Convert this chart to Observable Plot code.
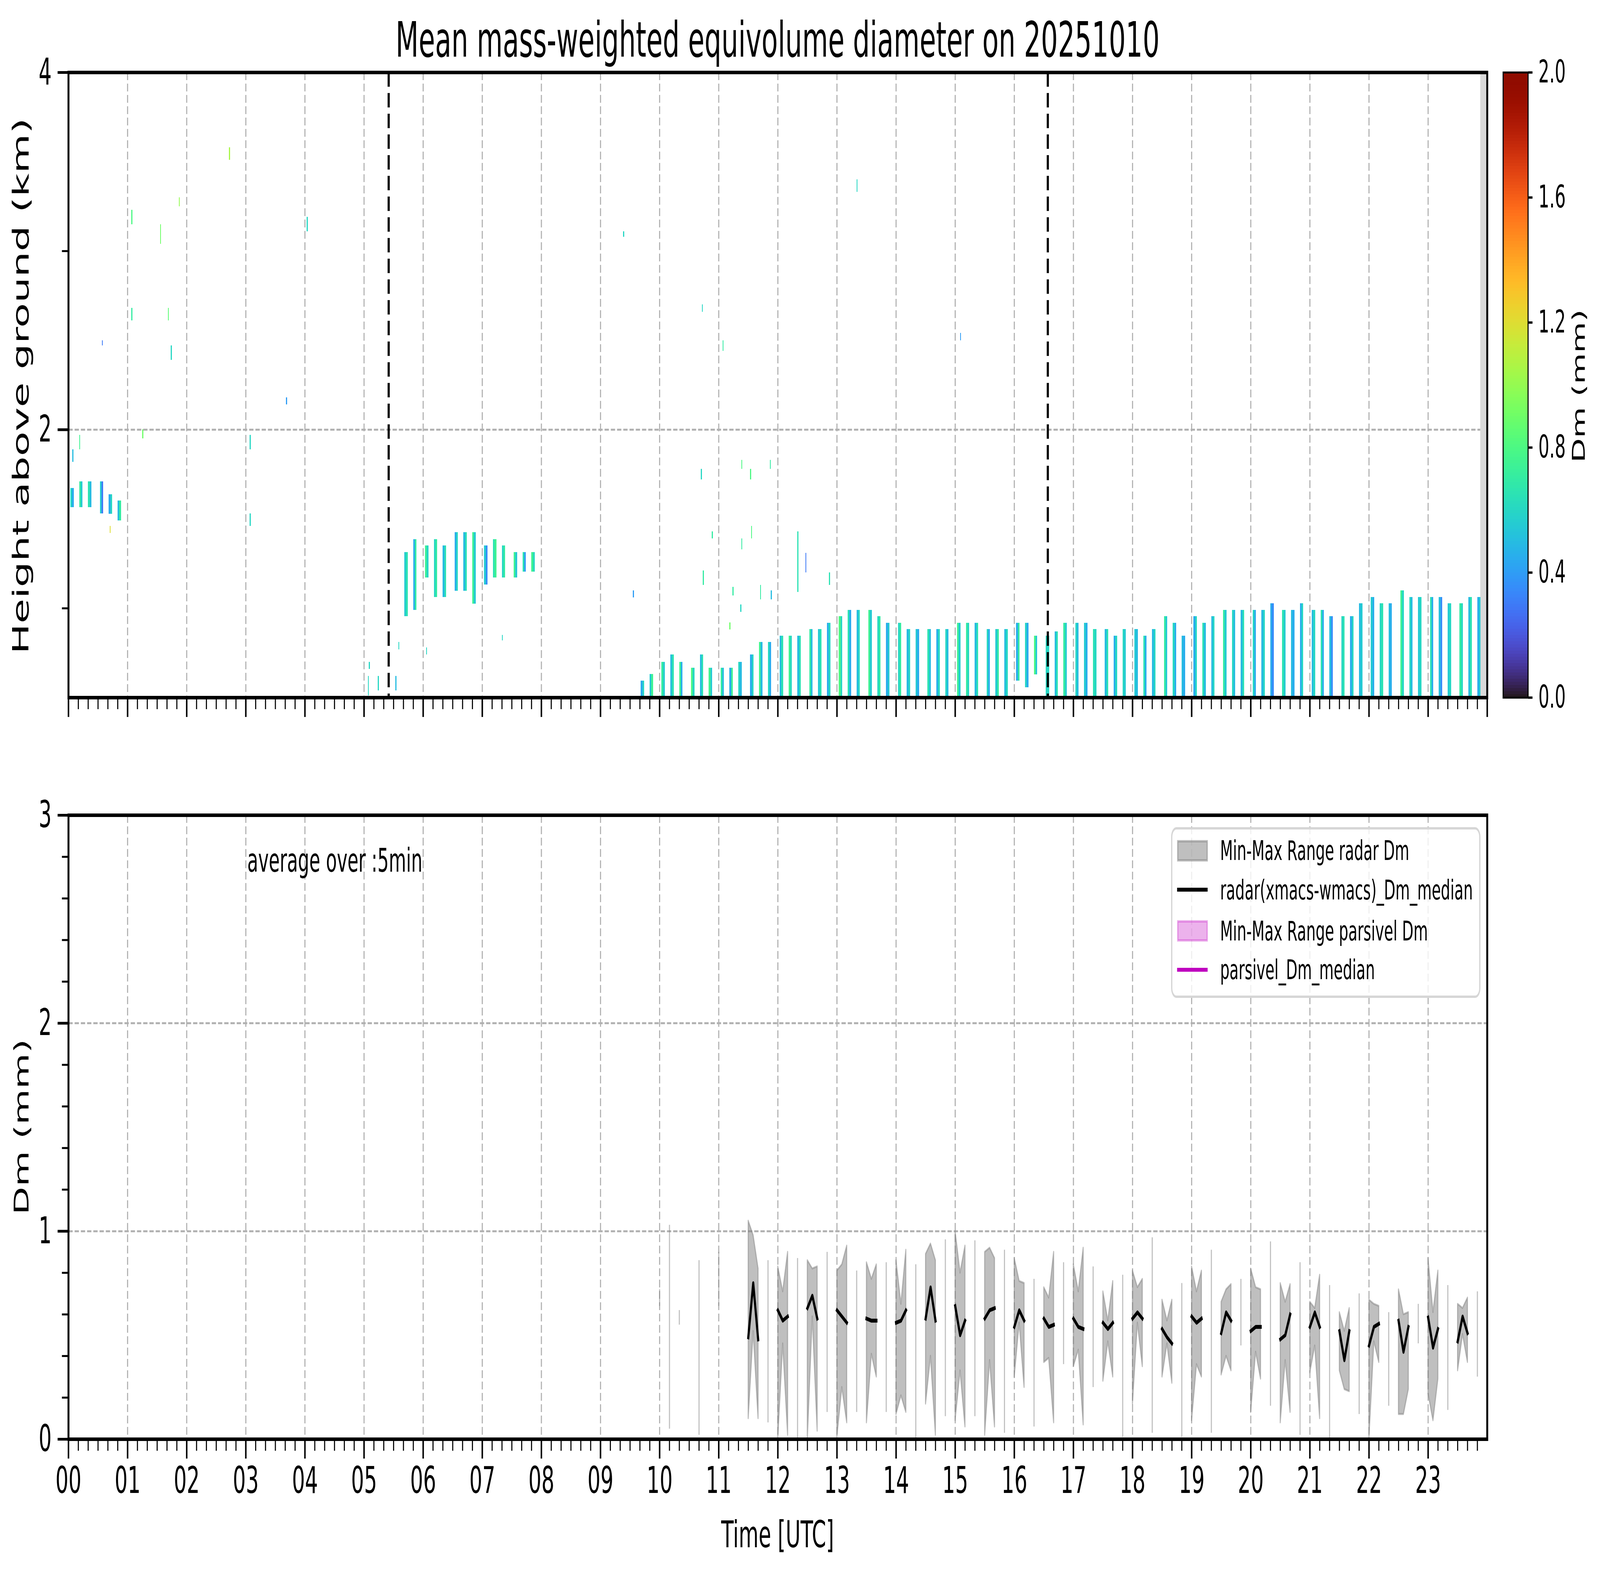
<!DOCTYPE html>
<html>
<head>
<meta charset="utf-8">
<script src="https://cdn.jsdelivr.net/npm/d3@7"></script>
<script src="https://cdn.jsdelivr.net/npm/@observablehq/plot@0.6"></script>
<style>
html, body { margin: 0; padding: 0; background: #fff; }
#page { position: relative; width: 7442px; height: 4031px; background: #fff; overflow: hidden; font-family: "DejaVu Sans", sans-serif; transform-origin: 0 0; }
.slot { position: absolute; }
</style>
</head>
<body>
<div id="page"></div>
<script>
// ---------------- DATA ----------------
const titleText = "Mean mass-weighted equivolume diameter on 20251010";
const hourLabels = ["00","01","02","03","04","05","06","07","08","09","10","11","12","13","14","15","16","17","18","19","20","21","22","23"];
const eventTimes = ["05:25", "16:34"];
const missingFrom = ["23:53"];

// radar profile columns (top panel): start time, bottom / top height (km), Dm of two sub-strips (mm)
const colTimes = [
  "00:02","00:11","00:20","00:32","00:41","00:50",
  "05:41","05:50","06:02","06:11","06:20","06:32","06:41","06:50","07:02","07:11","07:20","07:32","07:41","07:50",
  "09:41","09:50",
  "10:02","10:11","10:20","10:32","10:41","10:50",
  "11:02","11:11","11:20","11:32","11:41","11:50",
  "12:02","12:11","12:20","12:32","12:41","12:50",
  "13:02","13:11","13:20","13:32","13:41","13:50",
  "14:02","14:11","14:20","14:32","14:41","14:50",
  "15:02","15:11","15:20","15:32","15:41","15:50",
  "16:02","16:11","16:20","16:32","16:41","16:50",
  "17:02","17:11","17:20","17:32","17:41","17:50",
  "18:02","18:11","18:20","18:32","18:41","18:50",
  "19:02","19:11","19:20","19:32","19:41","19:50",
  "20:02","20:11","20:20","20:32","20:41","20:50",
  "21:02","21:11","21:20","21:32","21:41","21:50",
  "22:02","22:11","22:20","22:32","22:41","22:50",
  "23:02","23:11","23:20","23:32","23:41","23:50"
];
const colBottom = [
  1.566,1.566,1.566,1.53,1.528,1.492,
  0.955,0.99,1.171,1.062,1.062,1.097,1.097,1.025,1.132,1.171,1.171,1.171,1.205,1.205,
  0.5,0.5,
  0.5,0.5,0.5,0.5,0.5,0.5,
  0.5,0.5,0.5,0.5,0.5,0.5,
  0.5,0.5,0.5,0.5,0.5,0.5,
  0.5,0.5,0.5,0.5,0.5,0.5,
  0.5,0.5,0.5,0.5,0.5,0.5,
  0.5,0.5,0.5,0.5,0.5,0.5,
  0.594,0.557,0.63,0.5,0.5,0.5,
  0.5,0.5,0.5,0.5,0.5,0.5,
  0.5,0.5,0.5,0.5,0.5,0.5,
  0.5,0.5,0.5,0.5,0.5,0.5,
  0.5,0.5,0.5,0.5,0.5,0.5,
  0.5,0.5,0.5,0.5,0.5,0.5,
  0.5,0.5,0.5,0.5,0.5,0.5,
  0.5,0.5,0.5,0.5,0.5,0.5
];
const colTop = [
  1.673,1.709,1.709,1.709,1.637,1.602,
  1.313,1.386,1.35,1.386,1.35,1.425,1.425,1.425,1.35,1.386,1.35,1.313,1.313,1.313,
  0.595,0.632,
  0.70,0.74,0.70,0.667,0.74,0.667,
  0.667,0.667,0.70,0.74,0.81,0.81,
  0.845,0.845,0.845,0.883,0.883,0.918,
  0.955,0.99,0.99,0.99,0.955,0.918,
  0.918,0.883,0.883,0.883,0.883,0.883,
  0.918,0.918,0.918,0.883,0.883,0.883,
  0.918,0.918,0.845,0.845,0.87,0.918,
  0.918,0.918,0.883,0.883,0.845,0.883,
  0.883,0.845,0.883,0.955,0.918,0.845,
  0.955,0.918,0.955,0.99,0.99,0.99,
  0.99,0.99,1.027,0.99,0.99,1.027,
  0.99,0.99,0.955,0.955,0.955,1.027,
  1.062,1.027,1.027,1.099,1.062,1.062,
  1.062,1.062,1.027,1.027,1.062,1.062
];
const colDmA = [
  0.6,0.7,0.65,0.55,0.45,0.5,
  0.55,0.45,0.75,0.6,0.5,0.45,0.5,0.75,0.55,0.65,0.6,0.75,0.65,0.75,
  0.45,0.55,
  0.7,0.5,0.75,0.8,0.5,0.75,
  0.7,0.45,0.6,0.45,0.75,0.6,
  0.5,0.75,0.5,0.7,0.55,0.45,
  0.8,0.65,0.5,0.75,0.6,0.45,
  0.6,0.5,0.55,0.65,0.45,0.6,
  0.75,0.7,0.5,0.6,0.55,0.5,
  0.45,0.6,0.8,0.6,0.5,0.7,
  0.6,0.55,0.65,0.5,0.45,0.6,
  0.55,0.65,0.5,0.7,0.6,0.5,
  0.45,0.65,0.5,0.7,0.6,0.5,
  0.6,0.5,0.45,0.65,0.5,0.45,
  0.5,0.65,0.5,0.6,0.45,0.5,
  0.55,0.6,0.5,0.75,0.6,0.55,
  0.65,0.5,0.55,0.7,0.5,0.45
];
const colDmB = [
  0.45,0.55,0.5,0.3,0.6,0.7,
  0.65,0.7,0.6,0.7,0.65,0.6,0.65,0.55,0.35,0.75,0.7,0.55,0.4,0.6,
  0.6,0.75,
  0.55,0.65,0.45,0.6,0.65,0.55,
  0.5,0.75,0.5,0.6,0.5,0.45,
  0.65,0.6,0.65,0.5,0.65,0.6,
  0.6,0.45,0.6,0.55,0.7,0.55,
  0.7,0.6,0.45,0.5,0.6,0.5,
  0.55,0.6,0.65,0.45,0.7,0.6,
  0.7,0.45,0.55,0.6,0.65,0.55,
  0.5,0.45,0.6,0.65,0.6,0.55,
  0.5,0.45,0.6,0.55,0.45,0.45,
  0.6,0.5,0.6,0.55,0.5,0.65,
  0.45,0.6,0.35,0.55,0.45,0.6,
  0.6,0.45,0.35,0.65,0.6,0.55,
  0.45,0.65,0.45,0.6,0.5,0.6,
  0.45,0.35,0.6,0.6,0.65,0.55
];

// isolated radar echoes (top panel)
const speckTimes  = ["02:43","01:52","01:04","01:33","04:02","00:34","01:04","01:41","01:44","03:41","00:11","03:04","01:15","09:23","10:43","11:04","10:42","11:23","11:32","11:52","09:33","10:53","11:23","11:33","10:44","11:14","11:42","11:53","11:11","11:22","12:20","12:28","12:52","13:20","15:05","07:20","06:03","05:35","05:05","05:04","05:14","05:32","00:04","00:42","03:04"];
const speckBottom = [3.51,3.25,3.15,3.04,3.11,2.47,2.61,2.61,2.39,2.14,1.89,1.89,1.95,3.08,2.66,2.44,1.72,1.78,1.72,1.78,1.06,1.39,1.33,1.39,1.13,1.07,1.05,1.05,0.88,0.98,1.09,1.20,1.13,3.33,2.50,0.82,0.74,0.77,0.66,0.51,0.54,0.54,1.82,1.42,1.46];
const speckTop    = [3.58,3.30,3.23,3.15,3.19,2.50,2.68,2.68,2.47,2.18,1.97,1.97,2.00,3.11,2.70,2.50,1.78,1.83,1.78,1.83,1.10,1.43,1.39,1.46,1.21,1.12,1.13,1.10,0.92,1.02,1.43,1.31,1.20,3.40,2.54,0.85,0.78,0.81,0.70,0.62,0.62,0.62,1.89,1.46,1.53];
const speckDm     = [1.05,1.0,0.8,0.9,0.6,0.3,0.7,0.85,0.6,0.4,0.75,0.6,0.9,0.6,0.6,0.7,0.6,0.8,0.8,0.7,0.4,0.7,0.7,0.8,0.7,0.7,0.7,0.5,0.9,0.6,0.65,0.3,0.65,0.6,0.4,0.6,0.6,0.6,0.6,0.6,0.6,0.5,0.5,1.2,0.6];

// 5-min radar Dm statistics (bottom panel)
const radarTimes = ["10:00","10:10","10:20","10:40","11:00","11:30","11:35","11:40","11:50",
  "12:00","12:05","12:10","12:20","12:30","12:35","12:40","12:50",
  "13:00","13:05","13:10","13:20","13:30","13:35","13:40","13:50",
  "14:00","14:05","14:10","14:20","14:30","14:35","14:40","14:50",
  "15:00","15:05","15:10","15:20","15:30","15:35","15:40","15:50",
  "16:00","16:05","16:10","16:20","16:30","16:35","16:40","16:50",
  "17:00","17:05","17:10","17:20","17:30","17:35","17:40","17:50",
  "18:00","18:05","18:10","18:20","18:30","18:35","18:40","18:50",
  "19:00","19:05","19:10","19:20","19:30","19:35","19:40","19:50",
  "20:00","20:05","20:10","20:20","20:30","20:35","20:40","20:50",
  "21:00","21:05","21:10","21:20","21:30","21:35","21:40","21:50",
  "22:00","22:05","22:10","22:20","22:30","22:35","22:40","22:50",
  "23:00","23:05","23:10","23:20","23:30","23:35","23:40","23:50"];
const radarMin = [0.64,0.05,0.55,0.02,0.64,0.10,0.52,0.10,0.08,
  0.00,0.46,0.02,0.00,0.00,0.59,0.04,0.13,
  0.01,0.25,0.08,0.13,0.08,0.41,0.30,0.13,
  0.12,0.21,0.13,0.00,0.17,0.40,0.02,0.11,
  0.09,0.33,0.06,0.11,0.02,0.38,0.06,0.03,
  0.30,0.56,0.25,0.06,0.37,0.39,0.08,0.36,
  0.35,0.43,0.07,0.25,0.28,0.47,0.30,0.01,
  0.17,0.56,0.35,0.03,0.30,0.46,0.27,0.01,
  0.09,0.36,0.30,0.03,0.31,0.40,0.33,0.45,
  0.13,0.42,0.29,0.16,0.08,0.38,0.13,0.02,
  0.32,0.45,0.10,0.00,0.33,0.24,0.23,0.12,
  0.00,0.47,0.37,0.16,0.12,0.12,0.24,0.46,
  0.22,0.09,0.29,0.14,0.33,0.505,0.37,0.30];
const radarMed = [0.68,0.52,0.58,0.45,0.76,0.49,0.75,0.48,0.50,
  0.62,0.57,0.59,0.45,0.63,0.69,0.58,0.55,
  0.62,0.59,0.56,0.50,0.58,0.57,0.57,0.50,
  0.56,0.57,0.62,0.45,0.58,0.73,0.57,0.55,
  0.64,0.50,0.57,0.55,0.58,0.62,0.63,0.50,
  0.54,0.62,0.57,0.45,0.58,0.54,0.55,0.60,
  0.58,0.54,0.53,0.55,0.56,0.53,0.56,0.45,
  0.58,0.61,0.58,0.50,0.53,0.49,0.46,0.40,
  0.59,0.56,0.58,0.50,0.51,0.61,0.57,0.60,
  0.52,0.54,0.54,0.55,0.48,0.50,0.60,0.45,
  0.54,0.61,0.54,0.40,0.52,0.38,0.52,0.40,
  0.45,0.54,0.555,0.40,0.57,0.42,0.54,0.55,
  0.585,0.44,0.53,0.45,0.47,0.59,0.51,0.50];
const radarMax = [0.72,1.03,0.62,0.86,0.90,1.05,0.98,0.82,0.86,
  0.83,0.71,0.90,0.87,0.86,0.82,0.83,0.90,
  0.81,0.84,0.93,0.81,0.85,0.77,0.84,0.85,
  0.86,0.65,0.91,0.84,0.89,0.94,0.86,0.96,
  1.00,0.80,0.93,0.955,0.90,0.92,0.87,0.91,
  0.87,0.76,0.75,0.77,0.73,0.68,0.90,0.85,
  0.84,0.71,0.92,0.83,0.71,0.57,0.76,0.79,
  0.81,0.73,0.77,0.97,0.67,0.57,0.67,0.75,
  0.83,0.71,0.81,0.91,0.66,0.72,0.745,0.77,
  0.82,0.73,0.72,0.95,0.75,0.66,0.745,0.85,
  0.66,0.63,0.79,0.74,0.61,0.52,0.63,0.70,
  0.67,0.65,0.64,0.61,0.72,0.60,0.61,0.65,
  0.87,0.61,0.81,0.74,0.65,0.63,0.68,0.71];

const legendLabels = ["Min-Max Range radar Dm", "radar(xmacs-wmacs)_Dm_median", "Min-Max Range parsivel Dm", "parsivel_Dm_median"];
const noteText = "average over :5min";
const cbTicks = [0, 0.4, 0.8, 1.2, 1.6, 2.0];

// ---------------- BUILD ----------------
const page = document.getElementById("page");
const toH = s => { const [h, m] = s.split(":").map(Number); return h + m / 60; };
const FONT = "DejaVu Sans";
const baseStyle = {background: "transparent", fontFamily: FONT, fontSize: "95px", overflow: "visible", color: "black"};
const gridStyle = {stroke: "#b0b0b0", strokeOpacity: 1, strokeWidth: 5, strokeDasharray: "20,9"};
const hourTicks = hourLabels.map(Number);
const minorTicks = d3.range(1, 24 * 6 + 1).filter(i => i % 6 !== 0).map(i => i / 6);
const colorScale = {type: "linear", scheme: "turbo", domain: [0, 2]};

function place(el, left, top) {
  const d = document.createElement("div");
  d.className = "slot";
  d.style.left = left + "px";
  d.style.top = top + "px";
  d.appendChild(el);
  page.appendChild(d);
}

const STRIP = 1.7 / 60;
const strips = [];
colTimes.forEach((s, i) => {
  const t = toH(s);
  strips.push({x1: t, x2: t + STRIP, y1: colBottom[i], y2: colTop[i], dm: colDmA[i]});
  strips.push({x1: t + STRIP, x2: t + 2 * STRIP, y1: colBottom[i], y2: colTop[i], dm: colDmB[i]});
});
speckTimes.forEach((s, i) => {
  const t = toH(s);
  strips.push({x1: t, x2: t + 1 / 60, y1: speckBottom[i], y2: speckTop[i], dm: speckDm[i]});
});
const missing = missingFrom.map(s => ({x1: toH(s), x2: 24}));
const events = eventTimes.map(toH);

// top panel: frame x 318..6917, y 185..1785
const topPlot = Plot.plot({
  width: 6990, height: 1900,
  marginLeft: 318, marginRight: 73, marginTop: 185, marginBottom: 115,
  style: baseStyle,
  x: {domain: [0, 24], label: null},
  y: {domain: [0.5, 4], label: null},
  color: colorScale,
  marks: [
    Plot.gridX({ticks: hourTicks, ...gridStyle}),
    Plot.gridY({ticks: [2], ...gridStyle}),
    Plot.rect(missing, {x1: "x1", x2: "x2", y1: 0.5, y2: 4, fill: "#d9d9d9"}),
    Plot.rect(strips, {x1: "x1", x2: "x2", y1: "y1", y2: "y2", fill: "dm", shapeRendering: "crispEdges"}),
    Plot.ruleX(events, {stroke: "black", strokeWidth: 10, strokeDasharray: "37,16"}),
    Plot.axisX({ticks: hourTicks.concat([24]), tickSize: 50, strokeWidth: 7, tickFormat: () => "", label: null}),
    Plot.axisX({ticks: minorTicks, tickSize: 30, strokeWidth: 5, tickFormat: () => "", label: null}),
    Plot.axisY({ticks: [2, 4], tickSize: 50, tickPadding: 28, strokeWidth: 7, tickFormat: d => String(d), label: null}),
    Plot.axisY({ticks: [1, 3], tickSize: 30, strokeWidth: 5, tickFormat: () => "", label: null}),
    Plot.frame({stroke: "black", strokeWidth: 9})
  ]
});
place(topPlot, 0, 0);

// colorbar: frame x 6991..7107, y 185..1785
const cbSteps = d3.range(0, 200).map(i => i / 100);
const cbPlot = Plot.plot({
  width: 542, height: 1900,
  marginLeft: 91, marginRight: 335, marginTop: 185, marginBottom: 115,
  style: {...baseStyle, fontSize: "80px"},
  x: {domain: [0, 1], axis: null},
  y: {domain: [0, 2], label: null},
  color: colorScale,
  marks: [
    Plot.rect(cbSteps, {x1: 0, x2: 1, y1: d => d, y2: d => d + 0.0101, fill: d => d + 0.005, shapeRendering: "crispEdges"}),
    Plot.axisY({anchor: "right", ticks: cbTicks, tickSize: 20, tickPadding: 28, strokeWidth: 6, tickFormat: d3.format(".1f"), label: null}),
    Plot.frame({stroke: "black", strokeWidth: 5})
  ]
});
place(cbPlot, 6900, 0);

// bottom panel: frame x 318..6917, y 2086..3683
const rows = radarTimes.map((s, i) => ({t: toH(s), lo: radarMin[i], med: radarMed[i], hi: radarMax[i]}));
let g = 0;
rows.forEach((r, i) => { if (i > 0 && Math.abs(r.t - rows[i - 1].t - 5 / 60) > 1e-6) g++; r.g = g; });
const counts = d3.rollup(rows, v => v.length, d => d.g);
const multi = rows.filter(r => counts.get(r.g) > 1);
const single = rows.filter(r => counts.get(r.g) === 1);

const botPlot = Plot.plot({
  width: 6990, height: 2081,
  marginLeft: 318, marginRight: 73, marginTop: 136, marginBottom: 348,
  style: baseStyle,
  x: {domain: [0, 24], label: null},
  y: {domain: [0, 3], label: null},
  marks: [
    Plot.gridX({ticks: hourTicks, ...gridStyle}),
    Plot.gridY({ticks: [1, 2], ...gridStyle}),
    Plot.areaY(multi, {x: "t", y1: "lo", y2: "hi", z: "g", fill: "gray", fillOpacity: 0.5, stroke: "gray", strokeOpacity: 0.5, strokeWidth: 5}),
    Plot.ruleX(single, {x: "t", y1: "lo", y2: "hi", stroke: "gray", strokeOpacity: 0.5, strokeWidth: 5}),
    Plot.lineY(multi, {x: "t", y: "med", z: "g", stroke: "black", strokeWidth: 10, strokeLinecap: "square"}),
    Plot.axisX({ticks: hourTicks, tickSize: 50, tickPadding: 20, strokeWidth: 7, tickFormat: d => hourLabels[d], label: null}),
    Plot.axisX({ticks: minorTicks, tickSize: 30, strokeWidth: 5, tickFormat: () => "", label: null}),
    Plot.axisY({ticks: [0, 1, 2, 3], tickSize: 50, tickPadding: 28, strokeWidth: 7, tickFormat: d => String(d), label: null}),
    Plot.axisY({ticks: d3.range(1, 15).filter(i => i % 5 !== 0).map(i => i / 5), tickSize: 30, strokeWidth: 5, tickFormat: () => "", label: null}),
    Plot.frame({stroke: "black", strokeWidth: 9})
  ]
});
place(botPlot, 0, 1950);

// overlay: title, axis labels, legend, note
const ns = "http://www.w3.org/2000/svg";
const ov = document.createElementNS(ns, "svg");
ov.setAttribute("width", 7442);
ov.setAttribute("height", 4031);
ov.style.position = "absolute";
ov.style.left = "0px";
ov.style.top = "0px";
ov.style.fontFamily = FONT;
function txt(str, x, y, size, opts = {}) {
  const t = document.createElementNS(ns, "text");
  t.textContent = str;
  t.setAttribute("x", x);
  t.setAttribute("y", y);
  t.setAttribute("font-size", size);
  t.setAttribute("fill", "black");
  if (opts.anchor) t.setAttribute("text-anchor", opts.anchor);
  if (opts.rotate) t.setAttribute("transform", `rotate(-90 ${x} ${y})`);
  ov.appendChild(t);
  return t;
}
function el(tag, attrs) {
  const e = document.createElementNS(ns, tag);
  for (const k in attrs) e.setAttribute(k, attrs[k]);
  ov.appendChild(e);
  return e;
}
txt(titleText, 3617, 145, 124, {anchor: "middle"});
txt("Height above ground (km)", 132, 988, 104, {anchor: "middle", rotate: true});
txt("Dm (mm)", 133, 2884, 94, {anchor: "middle", rotate: true});
txt("Time [UTC]", 3617, 3960, 95, {anchor: "middle"});
txt("Dm (mm)", 7372, 988, 82, {anchor: "middle", rotate: true});
txt(noteText, 1150, 2231, 83);

el("rect", {x: 5450, y: 2120, width: 1433, height: 431, rx: 22, fill: "white", "fill-opacity": 0.8, stroke: "#d6d6d6", "stroke-width": 6});
el("rect", {x: 5478, y: 2153, width: 137, height: 49, fill: "gray", "fill-opacity": 0.5, stroke: "gray", "stroke-opacity": 0.5, "stroke-width": 6});
txt(legendLabels[0], 5675, 2201, 69);
el("line", {x1: 5475, x2: 5617, y1: 2277, y2: 2277, stroke: "black", "stroke-width": 10});
txt(legendLabels[1], 5675, 2302, 69);
el("rect", {x: 5478, y: 2358, width: 137, height: 49, fill: "#bf00bf", "fill-opacity": 0.3, stroke: "#bf00bf", "stroke-opacity": 0.3, "stroke-width": 6});
txt(legendLabels[2], 5675, 2407, 69);
el("line", {x1: 5475, x2: 5617, y1: 2482, y2: 2482, stroke: "#bf00bf", "stroke-width": 10});
txt(legendLabels[3], 5675, 2506, 69);
page.appendChild(ov);

// the 7442x4031 drawing is mapped onto the actual window so nothing is cut off
const W = window.innerWidth || document.documentElement.clientWidth;
const H = window.innerHeight || document.documentElement.clientHeight;
const sx = Math.min(1, W / 7442), sy = Math.min(1, H / 4031);
if (sx < 1 || sy < 1) {
  page.style.transform = `scale(${sx}, ${sy})`;
  document.body.style.width = (7442 * sx) + "px";
  document.body.style.height = (4031 * sy) + "px";
  document.body.style.overflow = "hidden";
}
</script>
</body>
</html>
